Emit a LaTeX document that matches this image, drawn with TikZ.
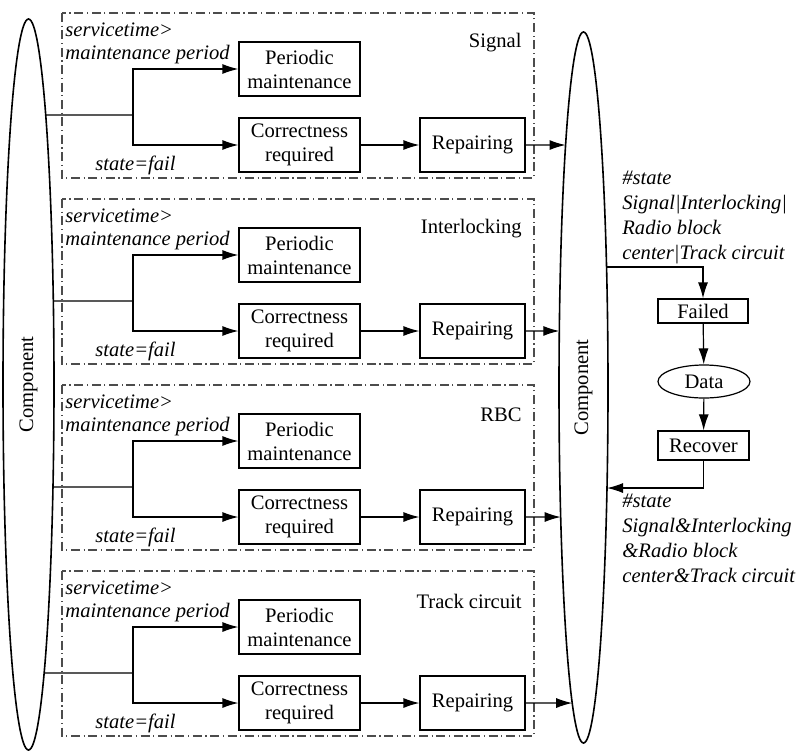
\documentclass[tikz,border=0pt]{standalone}
\usepackage{fontspec}
\setmainfont{Liberation Serif}
\usetikzlibrary{arrows.meta, shapes.geometric, intersections}

\begin{document}
\begin{tikzpicture}[x = 0.5pt, y = -0.5pt, > = {Latex[length = 8pt, width = 5pt]},
	font = \fontsize{10.3}{12}\selectfont,
	box/.style = {draw, line width = 0.6pt, inner sep = 0pt, align = center},
	frame/.style = {draw = black!70, line width = 0.7pt, dash pattern = on 4.5pt off 1.8pt on 0.6pt off 1.8pt},
	comp/.style = {draw, ellipse, line width = 0.8pt, inner sep = 0pt},
	cond/.style = {font = \fontsize{10.3}{12}\selectfont\itshape, inner sep = 0pt},
	flow/.style = {->, line width = 0.6pt}]

	\useasboundingbox (0, 0) rectangle (803, 751);

	% Component ellipses
	
	\node [comp, name path = lcp, minimum width = 25.5pt, minimum height = 365.5pt] (lcomp) at (28.5, 384.5) {\rotatebox{90}{Component}};
	\node [comp, name path = rcp, minimum width = 24.5pt, minimum height = 355.5pt] (rcomp) at (583.5, 387.5) {\rotatebox{90}{Component}};
	
	% One frame per subsystem
	
	\foreach \i/\sys in {1/Signal, 2/Interlocking, 3/RBC, 4/Track circuit} {
		\begin{scope}[shift = {(0, 186 * \i - 186)}]
			\draw [frame] (62, 13) rectangle (534, 178);
			\node [box, minimum width = 60.5pt, minimum height = 27pt] (pm\i) at (299.5, 69) {Periodic\\maintenance};
			\node [box, minimum width = 60.5pt, minimum height = 27pt] (cr\i) at (299.5, 145) {Correctness\\required};
			\node [box, minimum width = 52.5pt, minimum height = 27pt] (rp\i) at (472.5, 145) {Repairing};
			\node [cond, anchor = west] (st\i) at (65, 30) {servicetime>};
			\node [cond, anchor = west] (mp\i) at (65, 55) {maintenance period};
			\node [cond, anchor = west] (sf\i) at (95, 165) {state=fail};
			\node [anchor = east, inner sep = 0pt] (sys\i) at (522, 43) {\sys};
			\coordinate (br\i) at (133, 115);
			\path [name path = lh\i] (br\i) -- (br\i -| lcomp.center);
			\draw [line width = 0.6pt, name intersections = {of = lcp and lh\i, by = lx\i}] (lx\i) -- (br\i);
			\draw [flow] (br\i) |- (pm\i.west);
			\draw [flow] (br\i) |- (cr\i.west);
			\draw [flow] (cr\i) -- (rp\i);
			\path [name path = rh\i] (rp\i.east) -- (rp\i.east -| rcomp.center);
			\draw [flow, name intersections = {of = rcp and rh\i, by = rx\i}] (rp\i) -- (rx\i);
		\end{scope}
	}
	
	% Failure and recovery of the state
	
	\node [box, minimum width = 45pt, minimum height = 12pt] (failed) at (703, 311) {Failed};
	\node [box, ellipse, minimum width = 46pt, minimum height = 16.5pt] (data) at (704, 381.5) {Data};
	\node [box, minimum width = 45.5pt, minimum height = 14.5pt] (recover) at (703.5, 445.5) {Recover};
	
	\node [cond, font = \fontsize{10.3}{12.5}\selectfont\itshape, anchor = north west, align = left] (failst) at (622, 171)
		{\#state\\Signal|Interlocking|\\Radio block\\center|Track circuit};
	\node [cond, font = \fontsize{10.3}{12.5}\selectfont\itshape, anchor = north west, align = left] (recst) at (622, 494)
		{\#state\\Signal\&Interlocking\\\&Radio block\\center\&Track circuit};
	
	\coordinate (fork) at (703, 267);
	\path [name path = fh] (fork) -- (fork -| rcomp.center);
	\draw [flow, name intersections = {of = fh and rcp, by = fx}] (fx) -| (failed);
	\draw [flow] (failed) -- (data);
	\draw [flow] (data) -- (recover);
	
	\coordinate (back) at (703.5, 488);
	\path [name path = bh] (back) -- (back -| rcomp.center);
	\draw [flow, name intersections = {of = bh and rcp, by = bx}] (recover) |- (bx);
	
\end{tikzpicture}
\end{document}
